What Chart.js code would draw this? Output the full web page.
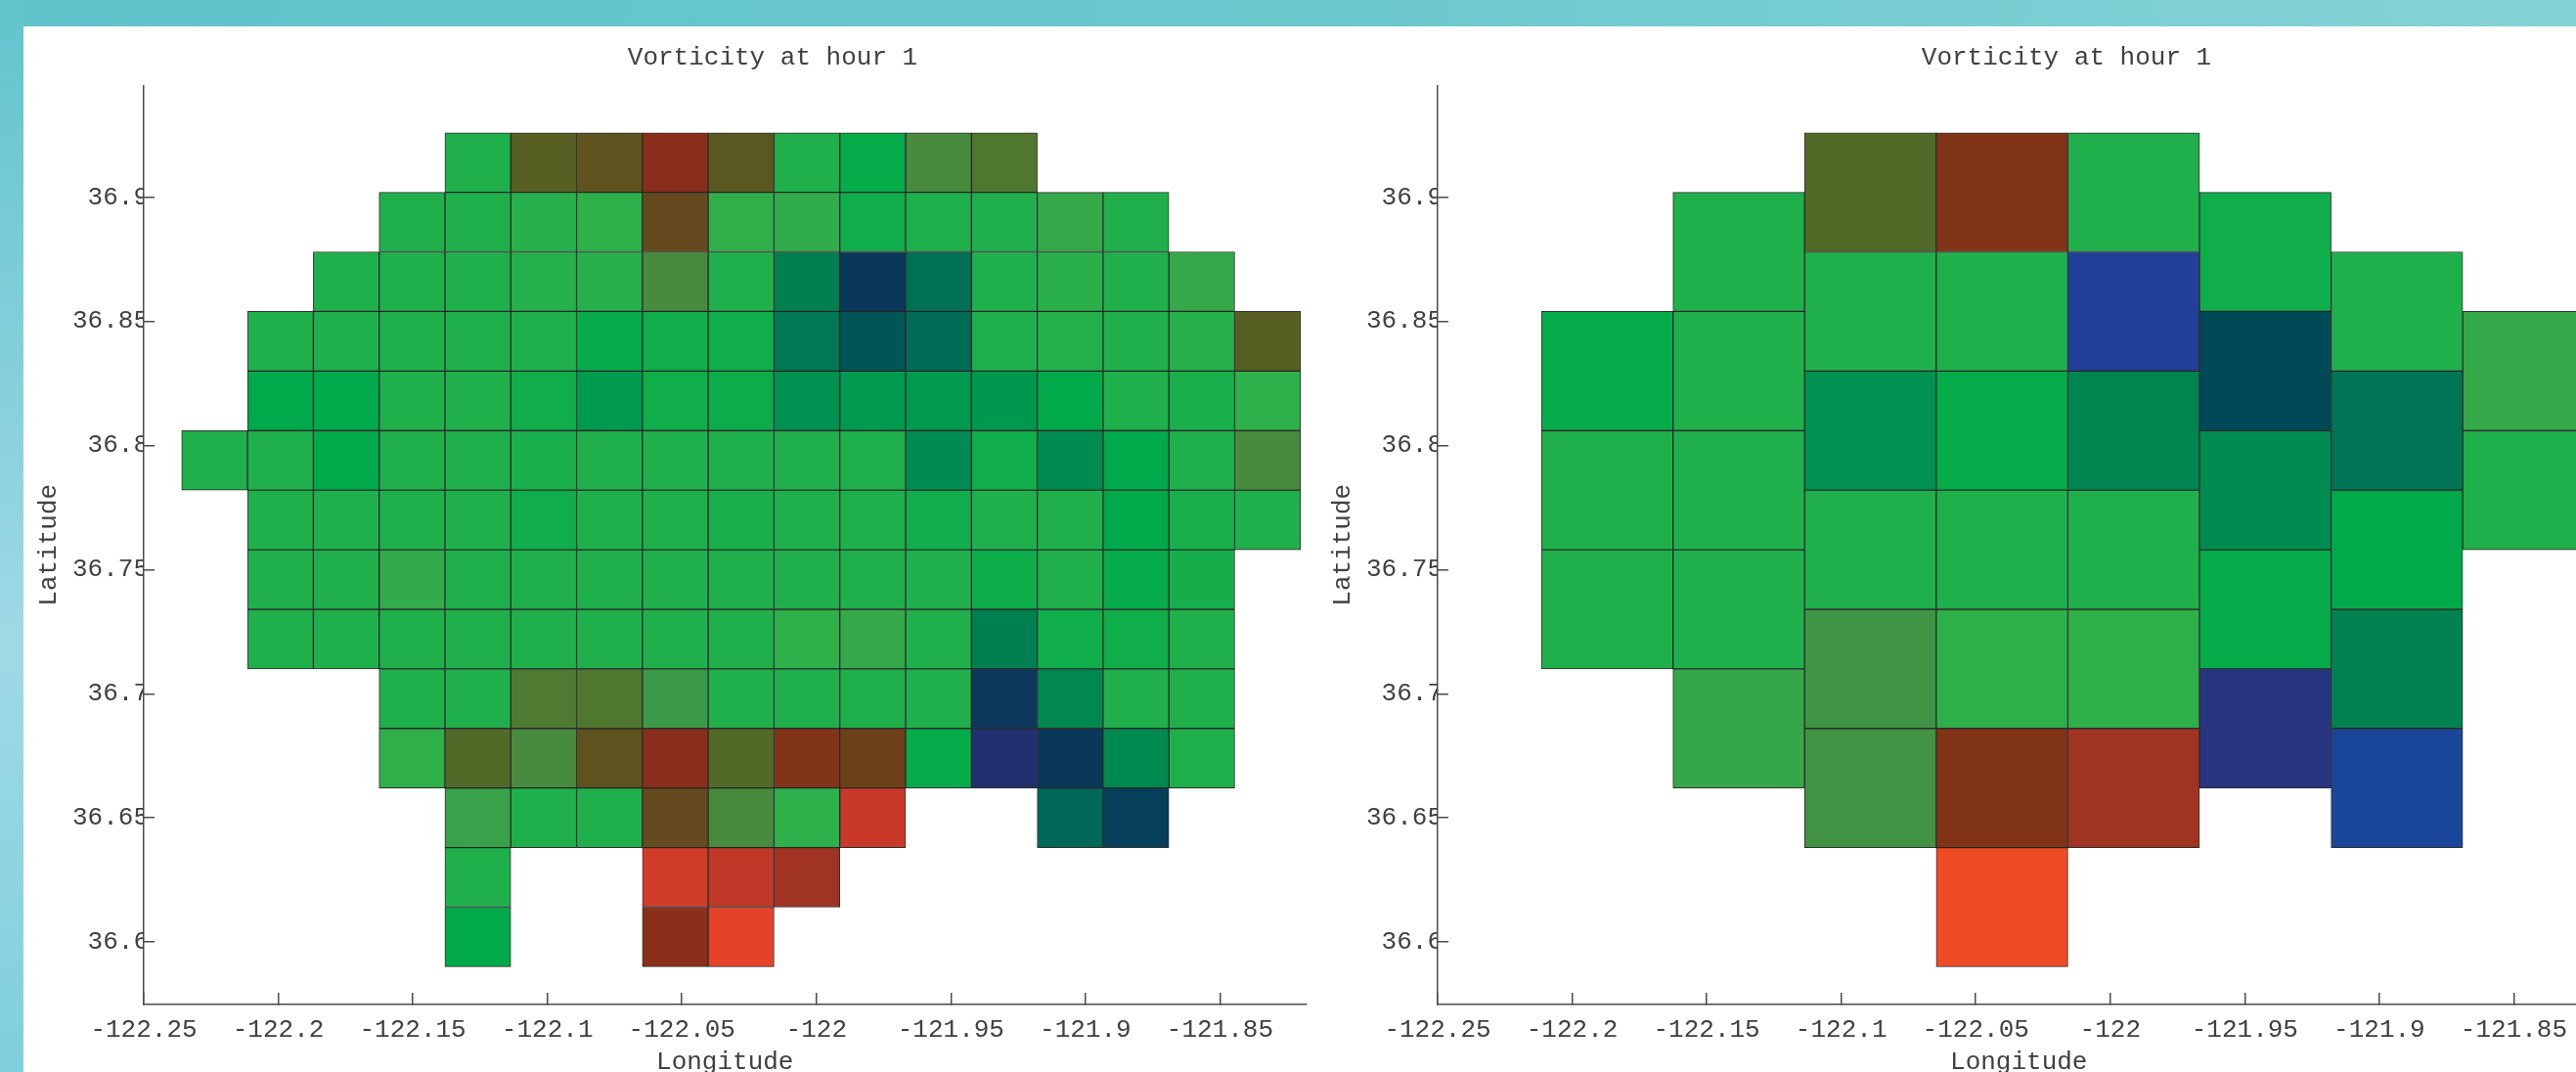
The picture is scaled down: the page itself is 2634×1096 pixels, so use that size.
<!DOCTYPE html>
<html>
<head>
<meta charset="utf-8">
<title>Vorticity at hour 1</title>
<script src="https://cdn.jsdelivr.net/npm/chart.js@4.4.1/dist/chart.umd.min.js"></script>
<style>
  html, body { margin: 0; padding: 0; width: 2634px; height: 1096px; overflow: hidden; }
  body { position: relative; background: linear-gradient(90deg, #5fc3cb 0%, #6ac8cd 50%, #86d3d7 100%); }
  #strip { position: absolute; left: 0; top: 0; width: 24px; height: 1096px;
           background: linear-gradient(180deg, #62c4cc 0%, #8fd3df 45%, #9fd9e6 60%, #80cfdc 100%); }
  #sheet { position: absolute; left: 24px; top: 27px; width: 2610px; height: 1069px; background: #fff; }
  canvas { position: absolute; top: 27px; }
  #fine { left: 24px; }
  #coarse { left: 1347px; }
</style>
</head>
<body>
<div id="strip"></div>
<div id="sheet"></div>
<canvas id="fine" width="1532" height="1079"></canvas>
<canvas id="coarse" width="1532" height="1079"></canvas>
<script>
// fine grid: column centre longitudes, row centre latitudes, cell size (degrees)
var fineLon = [-122.22367, -122.19921, -122.17475, -122.15029, -122.12583, -122.10137,
               -122.07691, -122.05245, -122.02799, -122.00353, -121.97907, -121.95461,
               -121.93015, -121.90569, -121.88123, -121.85677, -121.83231];
var fineLat = [36.914, 36.890, 36.866, 36.842, 36.818, 36.794, 36.770,
               36.746, 36.722, 36.698, 36.674, 36.650, 36.626, 36.602];
var fineDLon = 0.02446, fineDLat = 0.024;
// vorticity per cell, top row first (null = no data)
var fineVort = [
  [null, null, null, null, 0, 0.40, 0.48, 0.70, 0.45, 0, -0.08, 0.24, 0.31, null, null, null, null],
  [null, null, null, 0, 0, 0.03, 0.06, 0.52, 0.07, 0.08, -0.05, 0, 0, 0.12, 0, null, null],
  [null, null, 0, 0, 0, 0.02, 0.03, 0.24, 0, -0.28, -0.60, -0.36, 0, 0.04, 0, 0.12, null],
  [null, 0, 0, 0, 0, 0, -0.08, -0.05, -0.05, -0.32, -0.47, -0.38, 0, 0.02, 0, 0.03, 0.40],
  [null, -0.10, -0.10, 0, 0, -0.05, -0.16, -0.05, -0.06, -0.20, -0.16, -0.16, -0.17, -0.10, 0, -0.02, 0.06],
  [0, 0, -0.10, 0, 0, -0.02, 0, 0, 0, 0, 0, -0.22, -0.05, -0.22, -0.10, 0, 0.24],
  [null, 0, 0, 0, 0, -0.05, 0, 0, -0.02, 0, 0, -0.05, 0, 0, -0.10, -0.02, 0],
  [null, 0, 0, 0.10, 0, 0, 0, 0, 0, 0, 0, 0, -0.06, 0, -0.08, -0.03, null],
  [null, 0, 0, 0, 0, 0, 0, 0, 0, 0.06, 0.12, 0, -0.28, -0.05, -0.05, 0, null],
  [null, null, null, 0, 0, 0.30, 0.31, 0.18, 0, 0, 0, 0, -0.62, -0.24, 0, 0, null],
  [null, null, null, 0.07, 0.36, 0.24, 0.48, 0.70, 0.36, 0.68, 0.60, -0.08, -0.72, -0.60, -0.23, 0, null],
  [null, null, null, null, 0.15, 0, 0, 0.52, 0.24, 0.06, 0.90, null, null, -0.40, -0.57, null, null],
  [null, null, null, null, 0, null, null, 0.92, 0.88, 0.80, null, null, null, null, null, null, null],
  [null, null, null, null, -0.10, null, null, 0.71, 0.97, null, null, null, null, null, null, null, null]
];

// coarse grid: column centre longitudes, top latitude of each cell per column
var coarseLon = [-122.18698, -122.13806, -122.08914, -122.04022, -121.99130, -121.94238, -121.89346, -121.84454];
var coarseDLon = 0.04892, coarseDLat = 0.048;
var coarseTop = [
  [36.854, 36.806, 36.758],
  [36.902, 36.854, 36.806, 36.758, 36.710],
  [36.926, 36.878, 36.830, 36.782, 36.734, 36.686],
  [36.926, 36.878, 36.830, 36.782, 36.734, 36.686, 36.638],
  [36.926, 36.878, 36.830, 36.782, 36.734, 36.686],
  [36.902, 36.854, 36.806, 36.758, 36.710],
  [36.878, 36.830, 36.782, 36.734, 36.686],
  [36.854, 36.806]
];
var coarseVort = [
  [-0.08, 0, 0],
  [0, 0, 0, 0, 0.13],
  [0.36, 0, -0.20, 0, 0.20, 0.21],
  [0.68, 0, -0.08, 0, 0.06, 0.68, 1.0],
  [0, -0.92, -0.26, 0, 0.06, 0.80],
  [-0.05, -0.52, -0.22, -0.08, -0.78],
  [0, -0.34, -0.10, -0.27, -1.0],
  [0.12, 0]
];

var xTicks = [-122.25, -122.2, -122.15, -122.1, -122.05, -122, -121.95, -121.9, -121.85];
var xTickLabels = ['-122.25', '-122.2', '-122.15', '-122.1', '-122.05', '-122', '-121.95', '-121.9', '-121.85'];
var yTicks = [36.6, 36.65, 36.7, 36.75, 36.8, 36.85, 36.9];
var yTickLabels = ['36.6', '36.65', '36.7', '36.75', '36.8', '36.85', '36.9'];

// colour ramp for vorticity
var rampStops = [-1, -0.92, -0.78, -0.72, -0.60, -0.52, -0.47, -0.40, -0.28, -0.20, -0.10, 0,
                 0.06, 0.12, 0.18, 0.24, 0.30, 0.36, 0.40, 0.48, 0.52, 0.60, 0.68, 0.70, 0.80, 0.90, 0.97, 1];
var rampColors = [[26, 70, 153], [34, 64, 154], [40, 53, 128], [32, 48, 110], [10, 56, 90], [0, 74, 88],
                  [0, 85, 85], [0, 104, 88], [0, 128, 80], [0, 144, 80], [0, 170, 74], [31, 176, 76],
                  [46, 176, 74], [53, 168, 74], [58, 154, 72], [72, 138, 62], [78, 122, 50], [82, 106, 40],
                  [87, 95, 34], [94, 82, 30], [100, 74, 30], [110, 64, 26], [130, 52, 24], [136, 46, 26],
                  [160, 51, 34], [200, 57, 42], [228, 67, 42], [238, 74, 36]];

function vortColor(v) {
  var i = 0;
  while (i < rampStops.length - 2 && v > rampStops[i + 1]) i++;
  var t = (v - rampStops[i]) / (rampStops[i + 1] - rampStops[i]);
  t = Math.max(0, Math.min(1, t));
  var a = rampColors[i], b = rampColors[i + 1];
  return 'rgb(' + [0, 1, 2].map(function(k) { return Math.round(a[k] + (b[k] - a[k]) * t); }).join(',') + ')';
}

function fineCells() {
  var pts = [], cols = [];
  fineVort.forEach(function(row, r) {
    row.forEach(function(v, c) {
      if (v === null) return;
      pts.push({x: fineLon[c], y: [fineLat[r] - fineDLat / 2, fineLat[r] + fineDLat / 2]});
      cols.push(vortColor(v));
    });
  });
  return {pts: pts, cols: cols};
}

function coarseCells() {
  var pts = [], cols = [];
  coarseTop.forEach(function(tops, c) {
    tops.forEach(function(top, k) {
      pts.push({x: coarseLon[c], y: [top - coarseDLat, top]});
      cols.push(vortColor(coarseVort[c][k]));
    });
  });
  return {pts: pts, cols: cols};
}

var mono = "'Liberation Mono', 'DejaVu Sans Mono', monospace";
var ink = '#404040';
var axisInk = '#4a4a4a';

function makeChart(id, cells) {
  return new Chart(document.getElementById(id), {
    type: 'bar',
    data: {
      datasets: [{
        data: cells.pts,
        backgroundColor: cells.cols,
        borderColor: 'rgba(25,25,25,0.9)',
        borderWidth: 1,
        borderSkipped: false,
        categoryPercentage: 1,
        barPercentage: 1
      }]
    },
    options: {
      responsive: false,
      animation: false,
      events: [],
      plugins: {
        legend: { display: false },
        tooltip: { enabled: false },
        title: {
          display: true,
          text: 'Vorticity at hour 1',
          color: ink,
          font: { family: mono, size: 26, weight: 'normal' },
          padding: { top: 17, bottom: 12.3 }
        }
      },
      scales: {
        x: {
          type: 'linear',
          min: -122.25,
          max: -121.818,
          offset: false,
          afterBuildTicks: function(s) { s.ticks = xTicks.map(function(v) { return {value: v}; }); },
          afterFit: function(s) { s.height = 79; },
          ticks: {
            autoSkip: false, maxRotation: 0, padding: 22.2, color: ink,
            font: { family: mono, size: 26 },
            callback: function(v, i) { return xTickLabels[i]; }
          },
          grid: { offset: false, drawOnChartArea: false, drawTicks: true, tickLength: -12,
                  color: axisInk, tickColor: axisInk, lineWidth: 1.5 },
          border: { display: true, color: axisInk, width: 1.5 },
          title: { display: true, text: 'Longitude', color: ink,
                   font: { family: mono, size: 26 }, padding: { top: 0, bottom: 4.4 } }
        },
        y: {
          type: 'linear',
          min: 36.5748,
          max: 36.945,
          afterBuildTicks: function(s) { s.ticks = yTicks.map(function(v) { return {value: v}; }); },
          afterFit: function(s) { s.width = 123; },
          ticks: {
            autoSkip: false, padding: 6, color: ink,
            font: { family: mono, size: 26 },
            callback: function(v, i) { return yTickLabels[i]; }
          },
          grid: { drawOnChartArea: false, drawTicks: true, tickLength: -11,
                  color: axisInk, tickColor: axisInk, lineWidth: 1.5 },
          border: { display: true, color: axisInk, width: 1.5 },
          title: { display: true, text: 'Latitude', color: ink,
                   font: { family: mono, size: 26 }, padding: { top: 10.4, bottom: 0 } }
        },
        // empty right-hand axis: reserves the blank margin right of the plot box
        yPad: {
          type: 'linear',
          position: 'right',
          display: true,
          afterFit: function(s) { s.width = 220.5; },
          ticks: { display: false },
          grid: { display: false, drawTicks: false },
          border: { display: false }
        }
      }
    }
  });
}

makeChart('fine', fineCells());
makeChart('coarse', coarseCells());
</script>
</body>
</html>
